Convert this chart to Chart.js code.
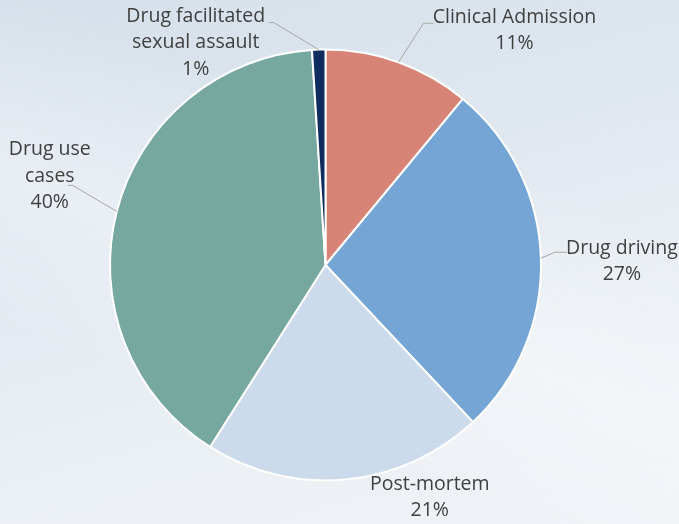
<!DOCTYPE html>
<html>
<head>
<meta charset="utf-8">
<script src="https://cdn.jsdelivr.net/npm/chart.js@4/dist/chart.umd.min.js"></script>
<style>
  html, body { margin: 0; padding: 0; }
  body {
    width: 679px; height: 524px; overflow: hidden;
    background:
      linear-gradient(200deg, rgba(255,255,255,0) 30%, rgba(255,255,255,0.35) 55%, rgba(255,255,255,0) 75%),
      linear-gradient(165deg, #d6e0ea 0%, #dfe7ef 35%, #eaeff4 65%, #f0f3f7 100%);
  }
  #wrap { position: relative; width: 679px; height: 524px; }
</style>
</head>
<body>
<div id="wrap"><canvas id="chart" width="679" height="524"></canvas></div>
<script>
// Case categories (multi-line names) and their share of cases
const categories = [
  ['Clinical Admission'],
  ['Drug driving'],
  ['Post-mortem'],
  ['Drug use', 'cases'],
  ['Drug facilitated', 'sexual assault']
];
const shares = [11, 27, 21, 40, 1];
const sliceColors = ['#d78477', '#75a5d4', '#ccdbeb', '#77a89f', '#0f2d5e'];

// Label placement relative to each slice's outer edge point (mid angle)
const labelLayout = [
  { dx: 116, dy: -32, elbow: [25, -39], tail: 10 },
  { dx: 81, dy: 3, elbow: [14, -6], tail: 12 },
  { dx: 84, dy: 18, elbow: null, tail: 0 },
  { dx: -67, dy: -35, elbow: [-44, -26], tail: -5 },
  { dx: -123, dy: -7, elbow: [-45, -27], tail: -5 }
];

const sliceLabels = {
  id: 'sliceLabels',
  afterDatasetsDraw(chart) {
    const ctx = chart.ctx;
    const meta = chart.getDatasetMeta(0);
    const values = chart.data.datasets[0].data;
    const total = values.reduce((a, b) => a + b, 0);
    const lineH = 26.5;
    ctx.save();
    ctx.font = '19.5px "Open Sans", Lato, sans-serif';
    ctx.textAlign = 'center';
    ctx.textBaseline = 'middle';
    meta.data.forEach((arc, i) => {
      const p = arc.getProps(['x', 'y', 'startAngle', 'endAngle', 'outerRadius'], true);
      const mid = (p.startAngle + p.endAngle) / 2;
      const ex = p.x + p.outerRadius * Math.cos(mid);
      const ey = p.y + p.outerRadius * Math.sin(mid);
      const lay = labelLayout[i];
      const lines = chart.data.labels[i].concat([Math.round(values[i] / total * 100) + '%']);
      const cx = ex + lay.dx;
      const cy = ey + lay.dy;
      const top = cy - (lines.length - 1) * lineH / 2;
      if (lay.elbow) {
        const bx = ex + lay.elbow[0];
        const by = ey + lay.elbow[1];
        ctx.strokeStyle = '#a6a6a6';
        ctx.lineWidth = 1;
        ctx.beginPath();
        ctx.moveTo(ex, ey);
        ctx.lineTo(bx, by);
        ctx.lineTo(bx + lay.tail, by);
        ctx.stroke();
      }
      ctx.fillStyle = '#404040';
      lines.forEach((t, k) => ctx.fillText(t, cx, top + k * lineH));
    });
    ctx.restore();
  }
};

new Chart(document.getElementById('chart'), {
  type: 'pie',
  data: {
    labels: categories,
    datasets: [{
      data: shares,
      backgroundColor: sliceColors,
      borderColor: '#ffffff',
      borderWidth: 2
    }]
  },
  options: {
    responsive: false,
    animation: false,
    events: [],
    layout: { padding: { left: 109, right: 137, top: 48, bottom: 42 } },
    plugins: {
      legend: { display: false },
      tooltip: { enabled: false }
    }
  },
  plugins: [sliceLabels]
});
</script>
</body>
</html>
